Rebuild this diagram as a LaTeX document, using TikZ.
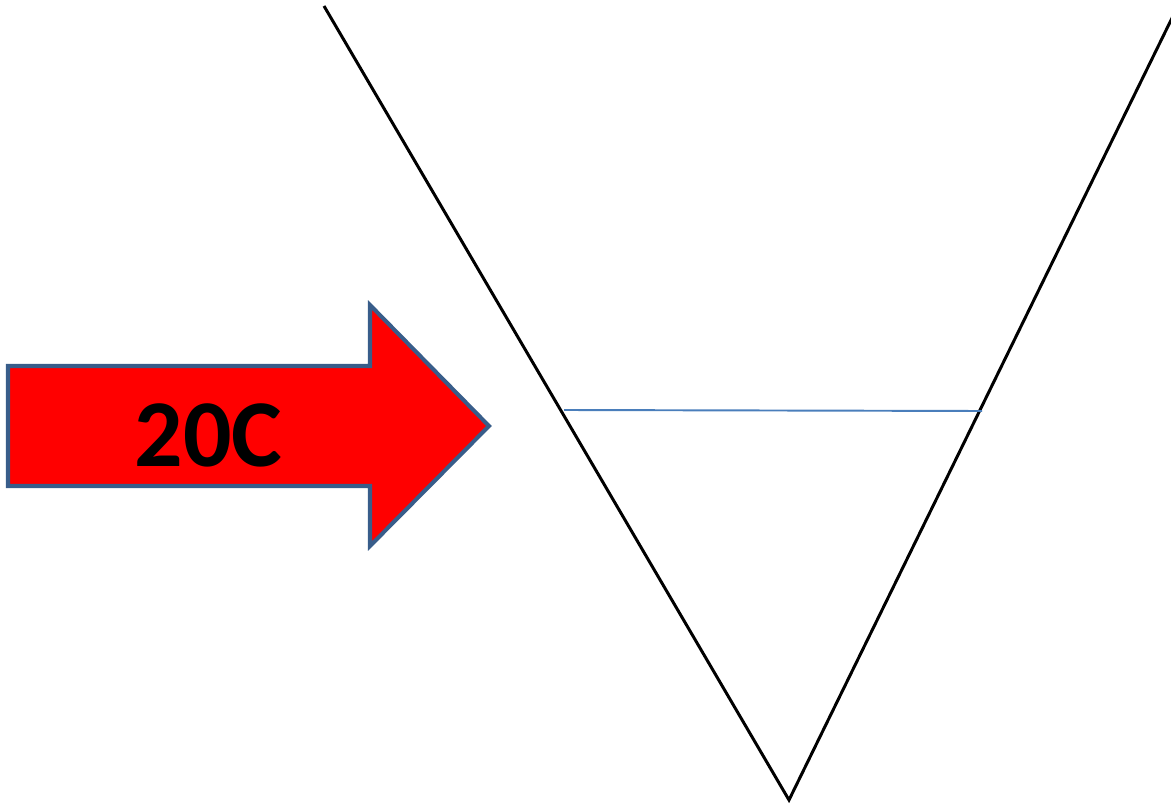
\documentclass[tikz,border=0pt]{standalone}
\usepackage{fontspec}
\setmainfont{Carlito}
\definecolor{arrowline}{RGB}{56,93,138}
\definecolor{levelline}{RGB}{74,126,187}
\begin{document}
\begin{tikzpicture}[x=0.02cm,y=-0.02cm,
  funnel/.style={line width=1.7pt},
  heatarrow/.style={fill=red,draw=arrowline,line width=2.3pt,line join=miter}]
\useasboundingbox (0,0) rectangle (1171,804);
\coordinate (tipV) at (789,800);
\coordinate (topL) at (324,6);
\coordinate (topR) at (1174,14);
\coordinate (levL) at (564,410);
\coordinate (levR) at (982,411);

\draw[funnel] (topL) -- (tipV) -- (topR);
\draw[levelline,line width=1.1pt] (levL) -- (levR);

\draw[heatarrow] (8,366) -- (370,366) -- (370,305) -- (489,426)
  -- (370,546) -- (370,486) -- (8,486) -- cycle;
\node[font=\bfseries\fontsize{54.5}{60}\selectfont] (temp) at (208.5,435) {20C};
\end{tikzpicture}
\end{document}
